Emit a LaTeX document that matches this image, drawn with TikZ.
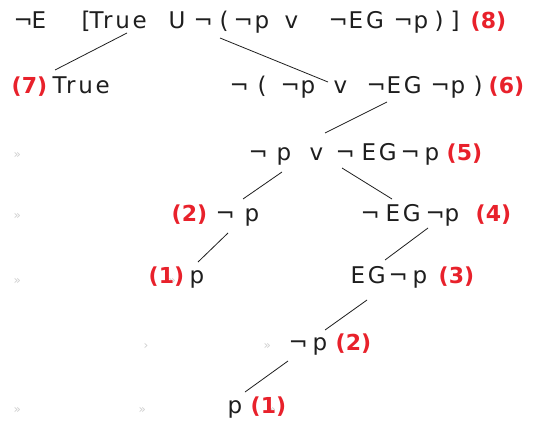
\documentclass[tikz,border=0pt]{standalone}
\usepackage{fontspec}
\newfontfamily\formfont{DejaVu Sans}[LetterSpace=12]
\newfontfamily\numfont{DejaVu Sans}
\definecolor{numred}{HTML}{E8212B}
\definecolor{markgray}{HTML}{CFCFCF}
\definecolor{textblack}{HTML}{1E1E1E}
\newcommand\tk[2]{\rlap{\hspace*{#1pt}#2}}
\newcommand\nm[2]{\rlap{\hspace*{#1pt}{\numfont\bfseries\fontsize{22}{26}\selectfont\color{numred}#2}}}
\tikzset{
  row/.style={anchor=base west, inner sep=0pt, text=textblack, font=\formfont\fontsize{23}{27}\selectfont},
  markrow/.style={anchor=base west, inner sep=0pt, text=markgray, font=\numfont\fontsize{12}{14}\selectfont},
  link/.style={line width=0.8pt, textblack}
}
\begin{document}
\begin{tikzpicture}[x=1pt,y=-1pt]
\useasboundingbox (0,0) rectangle (535,423);
% faint tab marks
\node[markrow] (m3) at (0,158) {\tk{13}{»}};
\node[markrow] (m4) at (0,219) {\tk{13}{»}};
\node[markrow] (m5) at (0,284) {\tk{13}{»}\tk{168}{»}};
\node[markrow] (m6) at (0,349) {\tk{143}{›}\tk{263}{»}};
\node[markrow] (m7) at (0,413) {\tk{13}{»}\tk{138}{»}\tk{268}{»}};
% formulas
\node[row] (r1) at (0,28) {\tk{13}{¬}\tk{31}{E}\tk{81}{[}\tk{89}{True}\tk{168}{U}\tk{193}{¬}\tk{219}{(}\tk{233}{¬}\tk{254}{p}\tk{284}{v}\tk{328}{¬}\tk{348}{EG}\tk{393}{¬}\tk{413}{p}\tk{434}{)}\tk{450}{]}\nm{470}{(8)}};
\node[row] (r2a) at (0,93) {\nm{11}{(7)}\tk{52}{True}};
\node[row] (r2b) at (0,93) {\tk{229}{¬}\tk{257}{(}\tk{280}{¬}\tk{300}{p}\tk{333}{v}\tk{366}{¬}\tk{386}{EG}\tk{430}{¬}\tk{450}{p}\tk{473}{)}\nm{488}{(6)}};
\node[row] (r3) at (0,160) {\tk{248}{¬}\tk{276}{p}\tk{309}{v}\tk{335}{¬}\tk{361}{EG}\tk{400}{¬}\tk{424}{p}\nm{446}{(5)}};
\node[row] (r4a) at (0,221) {\nm{171}{(2)}\tk{215}{¬}\tk{244}{p}};
\node[row] (r4b) at (0,221) {\tk{360}{¬}\tk{385}{EG}\tk{425}{¬}\tk{444}{p}\nm{475}{(4)}};
\node[row] (r5a) at (0,283) {\nm{148}{(1)}\tk{189}{p}};
\node[row] (r5b) at (0,283) {\tk{350}{EG}\tk{388}{¬}\tk{412}{p}\nm{438}{(3)}};
\node[row] (r6) at (0,350) {\tk{288}{¬}\tk{312}{p}\nm{335}{(2)}};
\node[row] (r7) at (0,413) {\tk{227}{p}\nm{250}{(1)}};
% connector end points
\coordinate (a1) at (127,33);  \coordinate (b1) at (55,70);
\coordinate (a2) at (220,38);  \coordinate (b2) at (328,82);
\coordinate (a3) at (387,102); \coordinate (b3) at (325,133);
\coordinate (a4) at (282,172); \coordinate (b4) at (243,199);
\coordinate (a5) at (342,168); \coordinate (b5) at (392,199);
\coordinate (a6) at (228,233); \coordinate (b6) at (198,262);
\coordinate (a7) at (428,228); \coordinate (b7) at (385,260);
\coordinate (a8) at (367,300); \coordinate (b8) at (325,330);
\coordinate (a9) at (288,361); \coordinate (b9) at (245,392);
\foreach \i in {1,...,9} \draw[link] (a\i) -- (b\i);
\end{tikzpicture}
\end{document}
